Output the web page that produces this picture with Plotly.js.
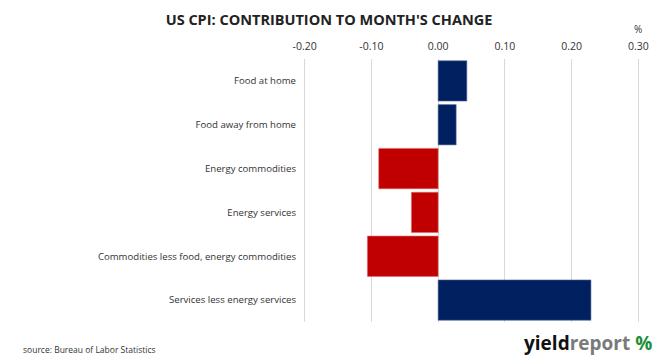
<!DOCTYPE html>
<html>
<head>
<meta charset="utf-8">
<script src="https://cdn.plot.ly/plotly-3.0.1.min.js"></script>
<style>html,body{margin:0;padding:0;background:#fff;}#chart{width:662px;height:363px;}</style>
</head>
<body>
<div id="chart"></div>
<script>
const categories = [
  "Food at home",
  "Food away from home",
  "Energy commodities",
  "Energy services",
  "Commodities less food, energy commodities",
  "Services less energy services"
];
const contributions = [0.043, 0.027, -0.089, -0.040, -0.106, 0.229];
const tickValues = [-0.20, -0.10, 0.00, 0.10, 0.20, 0.30];
const tickLabels = ["-0.20", "-0.10", "0.00", "0.10", "0.20", "0.30"];

const posColor = "#002060", negColor = "#C00000";
const posEdge = "#5a6fa0", negEdge = "#e06666";

const trace = {
  type: "bar",
  orientation: "h",
  y: categories,
  x: contributions,
  marker: {
    color: contributions.map(v => v >= 0 ? posColor : negColor),
    line: {color: contributions.map(v => v >= 0 ? posEdge : negEdge), width: 0.6}
  },
  hoverinfo: "x+y"
};

const layout = {
  width: 662, height: 363,
  margin: {l: 302, r: 21, t: 59, b: 41},
  paper_bgcolor: "#fff", plot_bgcolor: "#fff",
  bargap: 0.08,
  showlegend: false,
  font: {family: "Open Sans, sans-serif", color: "#333"},
  title: {
    text: "US CPI: CONTRIBUTION TO MONTH'S CHANGE",
    font: {family: "Open Sans, sans-serif", size: 14.5, color: "#222", weight: "bold"},
    x: 0.497, xanchor: "center", y: 0.945, yanchor: "middle"
  },
  xaxis: {
    side: "top",
    range: [-0.204, 0.304],
    tickvals: tickValues,
    ticktext: tickLabels,
    showgrid: true, gridcolor: "#d9d9d9", gridwidth: 1,
    zeroline: false, showline: false, ticks: "",
    tickfont: {size: 10.5, color: "#333"},
    ticklabelstandoff: 6,
    fixedrange: true
  },
  yaxis: {
    autorange: "reversed",
    showgrid: false, zeroline: false, showline: false, ticks: "",
    tickfont: {size: 9.6, color: "#333"},
    ticklabelstandoff: 5,
    fixedrange: true
  },
  annotations: [
    {xref: "paper", yref: "paper", x: 0.992, y: 1, xanchor: "center", yanchor: "bottom",
     yshift: 21, text: "%", showarrow: false, font: {size: 10, color: "#333"}},
    {xref: "paper", yref: "paper", x: 0, y: 0, xanchor: "left", yanchor: "top",
     text: "source: Bureau of Labor Statistics", showarrow: false,
     font: {size: 8.5, color: "#333"}, xshift: -281, yshift: -20},
    {xref: "paper", yref: "paper", x: 1, y: 0, xanchor: "right", yanchor: "top",
     text: "<b><span style='color:#111'>yield</span><span style='color:#7a7a7a'>report</span> <span style='color:#1f8f3a'>%</span></b>",
     showarrow: false, font: {size: 19, color: "#111", family: "Open Sans, sans-serif"},
     xshift: 13, yshift: -6}
  ]
};

Plotly.newPlot("chart", [trace], layout, {displayModeBar: false, staticPlot: true});
</script>
</body>
</html>
